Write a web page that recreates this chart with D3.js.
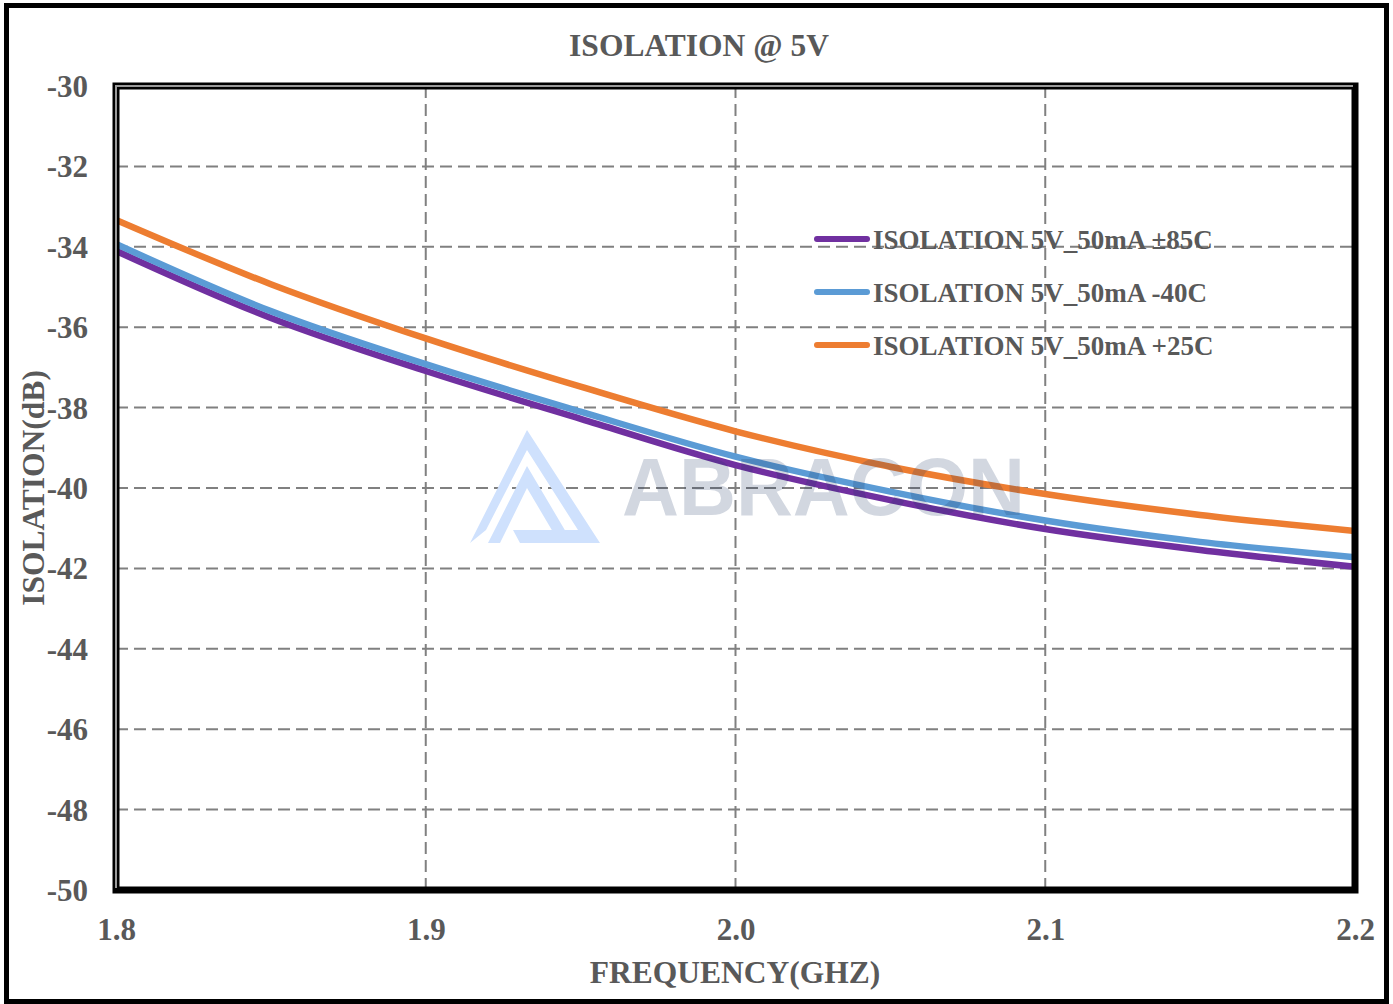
<!DOCTYPE html>
<html>
<head>
<meta charset="utf-8">
<script src="https://cdn.jsdelivr.net/npm/d3@7"></script>
<style>
  html, body { margin: 0; padding: 0; background: #fff; }
  svg { display: block; }
</style>
</head>
<body>
<svg id="chart" width="1393" height="1004"></svg>
<script>
// ---- data ----
const freqs = [1.80, 1.85, 1.90, 1.95, 2.00, 2.05, 2.10, 2.15, 2.20];
const iso85 = [-34.10, -35.77, -37.09, -38.28, -39.43, -40.30, -41.02, -41.54, -41.96];
const isoM40 = [-33.93, -35.60, -36.92, -38.10, -39.22, -40.09, -40.81, -41.34, -41.72];
const iso25 = [-33.33, -34.93, -36.28, -37.48, -38.59, -39.47, -40.15, -40.67, -41.07];
const seriesNames = ["ISOLATION 5V_50mA \u00B185C", "ISOLATION 5V_50mA -40C", "ISOLATION 5V_50mA +25C"];
const seriesColors = ["#7030A0", "#5B9BD5", "#ED7D31"];
const xTicks = [1.8, 1.9, 2.0, 2.1, 2.2];
const yTicks = [-30, -32, -34, -36, -38, -40, -42, -44, -46, -48, -50];
const titleText = "ISOLATION @ 5V";
const xTitle = "FREQUENCY(GHZ)";
const yTitle = "ISOLATION(dB)";

const series = [iso85, isoM40, iso25];

const svg = d3.select("#chart");
const L = 116, R = 1355, T = 86, B = 890;
const font = "'Liberation Serif', 'Times New Roman', serif";
const textColor = "#595959";

// outer border
svg.append("rect").attr("x", 6.5).attr("y", 5.5).attr("width", 1380).attr("height", 996)
  .attr("fill", "#fff").attr("stroke", "#000").attr("stroke-width", 5);

const x = d3.scaleLinear().domain([1.8, 2.2]).range([L, R]);
const y = d3.scaleLinear().domain([-50, -30]).range([B, T]);

// grid
const grid = svg.append("g");
grid.selectAll("line.h").data(yTicks.filter(v => v !== -30 && v !== -50)).enter().append("line")
  .attr("x1", L).attr("x2", R).attr("y1", d => y(d)).attr("y2", d => y(d))
  .attr("stroke", "#808080").attr("stroke-width", 2).attr("stroke-dasharray", "12,6");
grid.selectAll("line.v").data(xTicks.filter(v => v !== 1.8 && v !== 2.2)).enter().append("line")
  .attr("x1", d => x(d)).attr("x2", d => x(d)).attr("y1", T).attr("y2", B)
  .attr("stroke", "#808080").attr("stroke-width", 2).attr("stroke-dasharray", "12,6");

// lines
svg.append("defs").append("clipPath").attr("id", "clip")
  .append("rect").attr("x", L).attr("y", T).attr("width", R - L).attr("height", B - T);
const line = d3.line().x(d => x(d[0])).y(d => y(d[1])).curve(d3.curveMonotoneX);
const lg = svg.append("g").attr("clip-path", "url(#clip)");
series.forEach((s, i) => {
  lg.append("path").datum(freqs.map((f, j) => [f, s[j]]))
    .attr("d", line).attr("fill", "none")
    .attr("stroke", seriesColors[i]).attr("stroke-width", 6.5);
});

// watermark
const wm = svg.append("g");
wm.append("path")
  .attr("d", "M470,543 L527,430 L600,543 L520,543 L513,530 L578,530 L527,450 L486,530 Z")
  .attr("fill", "#CFE1FD").attr("fill-rule", "evenodd");
wm.append("path")
  .attr("d", "M488,543 L527,466 L566,532 L553,532 L527,488 L500,543 Z")
  .attr("fill", "#CFE1FD");
wm.append("text").attr("x", 622).attr("y", 515).text("ABRACON")
  .attr("font-family", "'Liberation Sans', Arial, sans-serif").attr("font-weight", "bold")
  .attr("font-size", 82).attr("fill", "#1F3864").attr("fill-opacity", 0.2)
  .attr("textLength", 403).attr("lengthAdjust", "spacingAndGlyphs");

// plot border
svg.append("rect").attr("x", L).attr("y", T).attr("width", R - L).attr("height", B - T)
  .attr("fill", "none").attr("stroke", "#000").attr("stroke-width", 7);
svg.append("line").attr("x1", L).attr("x2", L).attr("y1", T - 1).attr("y2", B - 2)
  .attr("stroke", "#9a9a9a").attr("stroke-width", 2);
svg.append("line").attr("x1", L - 1).attr("x2", R - 2).attr("y1", T).attr("y2", T)
  .attr("stroke", "#9a9a9a").attr("stroke-width", 2);

// axes tick labels
const yAxis = d3.axisLeft(y).tickValues(yTicks).tickSize(0).tickPadding(28).tickFormat(d => String(d));
const ya = svg.append("g").attr("transform", `translate(${L},0)`).call(yAxis);
ya.select(".domain").remove();
ya.selectAll("text").attr("font-family", font).attr("font-weight", "bold")
  .attr("font-size", 31).attr("fill", textColor).attr("dy", "0.34em");

const xAxis = d3.axisBottom(x).tickValues(xTicks).tickSize(0).tickPadding(28).tickFormat(d3.format(".1f"));
const xa = svg.append("g").attr("transform", `translate(0,${B})`).call(xAxis);
xa.select(".domain").remove();
xa.selectAll("text").attr("font-family", font).attr("font-weight", "bold")
  .attr("font-size", 31).attr("fill", textColor).attr("dy", "0.71em");

// titles
svg.append("text").attr("x", 699).attr("y", 56).attr("text-anchor", "middle").text(titleText)
  .attr("font-family", font).attr("font-weight", "bold").attr("font-size", 31.5).attr("fill", textColor);
svg.append("text").attr("x", 735).attr("y", 983).attr("text-anchor", "middle").text(xTitle)
  .attr("font-family", font).attr("font-weight", "bold").attr("font-size", 31.5).attr("fill", textColor);
svg.append("text").attr("transform", "translate(44,488) rotate(-90)").attr("text-anchor", "middle").text(yTitle)
  .attr("font-family", font).attr("font-weight", "bold").attr("font-size", 31.5).attr("fill", textColor);

// legend
const leg = svg.append("g");
seriesNames.forEach((n, i) => {
  const cy = 239 + i * 53;
  leg.append("line").attr("x1", 817).attr("x2", 867).attr("y1", cy).attr("y2", cy)
    .attr("stroke", seriesColors[i]).attr("stroke-width", 6).attr("stroke-linecap", "round");
  leg.append("text").attr("x", 873).attr("y", cy + 9.5).text(n)
    .attr("font-family", font).attr("font-weight", "bold").attr("font-size", 27).attr("fill", textColor);
});
</script>
</body>
</html>
